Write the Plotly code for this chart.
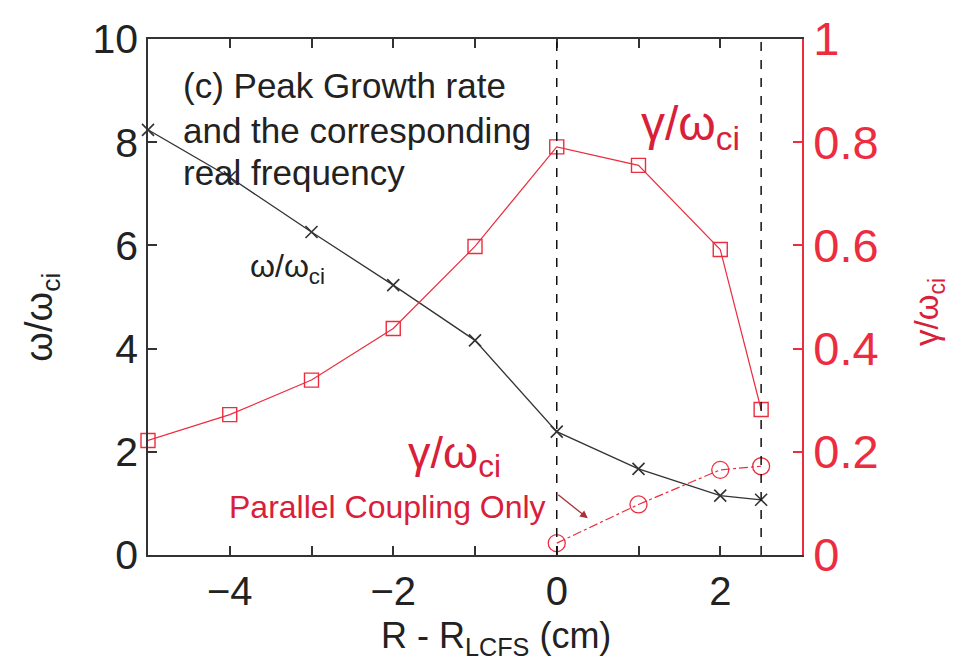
import plotly.graph_objects as go

# ---- data ----
x_pos = [-5, -4, -3, -2, -1, 0, 1, 2, 2.5]
omega = [8.24, 7.32, 6.26, 5.23, 4.16, 2.39, 1.67, 1.15, 1.07]
gamma = [0.222, 0.272, 0.339, 0.439, 0.598, 0.791, 0.755, 0.592, 0.282]
x_par = [0, 1, 2, 2.5]
gamma_par = [0.023, 0.098, 0.165, 0.172]
vlines = [0, 2.5]

x_tickvals = [-4, -3, -2, -1, 0, 1, 2]
x_ticktext = ["\u22124", "", "\u22122", "", "0", "", "2"]
y_tickvals = [0, 2, 4, 6, 8, 10]
y2_tickvals = [0, 0.2, 0.4, 0.6, 0.8, 1]
y2_ticktext = ["0", "0.2", "0.4", "0.6", "0.8", "1"]

RED = "#ec2d3f"
TXT_RED = "#d9203a"
BLK = "#222222"
FONT = "Liberation Sans, Arial, sans-serif"

fig = go.Figure()

fig.add_trace(go.Scatter(
    x=x_pos, y=omega, mode="lines+markers",
    line=dict(color="#333333", width=1.3),
    marker=dict(symbol="x-thin-open", size=12, line=dict(color="#333333", width=1.6)),
    cliponaxis=False, showlegend=False))

fig.add_trace(go.Scatter(
    x=x_pos, y=gamma, mode="lines+markers", yaxis="y2",
    line=dict(color=RED, width=1.2),
    marker=dict(symbol="square-open", size=14, color=RED, line=dict(color=RED, width=1.4)),
    cliponaxis=False, showlegend=False))

fig.add_trace(go.Scatter(
    x=x_par, y=gamma_par, mode="lines+markers", yaxis="y2",
    line=dict(color=RED, width=1.2, dash="dashdot"),
    marker=dict(symbol="circle-open", size=17, color=RED, line=dict(color=RED, width=1.3)),
    cliponaxis=False, showlegend=False))

for xv in vlines:
    fig.add_shape(type="line", xref="x", yref="paper", x0=xv, x1=xv, y0=0, y1=1,
                  line=dict(color="#111111", width=1.5, dash="dash"))

annots = [
    dict(text="(c) Peak Growth rate", x=-4.6, y=9.1),
    dict(text="and the corresponding", x=-4.6, y=8.22),
    dict(text="real frequency", x=-4.6, y=7.41),
]
for a in annots:
    fig.add_annotation(text=a["text"], x=a["x"], y=a["y"], xref="x", yref="y",
                       xanchor="left", yanchor="middle", showarrow=False,
                       font=dict(family=FONT, size=35, color=BLK))

fig.add_annotation(text="\u03c9/\u03c9<sub>ci</sub>", x=-3.78, y=5.55, xref="x", yref="y",
                   xanchor="left", yanchor="middle", showarrow=False,
                   font=dict(family=FONT, size=32, color=BLK))
fig.add_annotation(text="\u03b3/\u03c9<sub>ci</sub>", x=1.0, y=8.3, xref="x", yref="y",
                   xanchor="left", yanchor="middle", showarrow=False,
                   font=dict(family=FONT, size=48, color=TXT_RED))
fig.add_annotation(text="\u03b3/\u03c9<sub>ci</sub>", x=-1.85, y=1.92, xref="x", yref="y",
                   xanchor="left", yanchor="middle", showarrow=False,
                   font=dict(family=FONT, size=45, color=TXT_RED))
fig.add_annotation(text="Parallel Coupling Only", x=-4.03, y=0.93, xref="x", yref="y",
                   xanchor="left", yanchor="middle", showarrow=False,
                   font=dict(family=FONT, size=32, color=TXT_RED))
fig.add_annotation(x=0.38, y=0.71, ax=0.0, ay=1.19, xref="x", yref="y", axref="x", ayref="y",
                   text="", showarrow=True, arrowhead=2, arrowsize=1.2, arrowwidth=1.3,
                   arrowcolor="#a83038")

# axis titles (placed as texts for exact positioning)
fig.add_annotation(text="\u03c9/\u03c9<sub>ci</sub>", x=-0.162, y=0.46, xref="paper", yref="paper",
                   xanchor="center", yanchor="middle", showarrow=False, textangle=-90,
                   font=dict(family=FONT, size=38, color=BLK))
fig.add_annotation(text="\u03b3/\u03c9<sub>ci</sub>", x=1.195, y=0.47, xref="paper", yref="paper",
                   xanchor="center", yanchor="middle", showarrow=False, textangle=-90,
                   font=dict(family=FONT, size=33, color=TXT_RED))
fig.add_annotation(text="R - R<sub>LCFS</sub> (cm)", x=0.532, y=-0.16, xref="paper", yref="paper",
                   xanchor="center", yanchor="middle", showarrow=False,
                   font=dict(family=FONT, size=36, color=BLK))

fig.update_layout(
    width=961, height=662,
    margin=dict(l=148, r=159, t=33, b=107),
    paper_bgcolor="white", plot_bgcolor="white",
    font=dict(family=FONT, color=BLK),
    xaxis=dict(range=[-5, 3], tickvals=x_tickvals, ticktext=x_ticktext,
               ticks="inside", ticklen=9, tickwidth=1.5, tickcolor="#333333",
               showline=True, linecolor="#333333", linewidth=1.5, mirror="ticks",
               showgrid=False, zeroline=False,
               tickfont=dict(size=40, color=BLK)),
    yaxis=dict(range=[0, 10], tickvals=y_tickvals,
               ticks="inside", ticklen=9, tickwidth=1.5, tickcolor="#333333",
               showline=True, linecolor="#333333", linewidth=1.5,
               showgrid=False, zeroline=False,
               tickfont=dict(size=41, color=BLK)),
    yaxis2=dict(range=[0, 1], tickvals=y2_tickvals, ticktext=y2_ticktext,
                overlaying="y", side="right",
                ticks="inside", ticklen=9, tickwidth=1.5, tickcolor=RED,
                showline=True, linecolor=RED, linewidth=1.8,
                showgrid=False, zeroline=False,
                tickfont=dict(size=47, color=RED)),
)

fig.write_html("out.html")
